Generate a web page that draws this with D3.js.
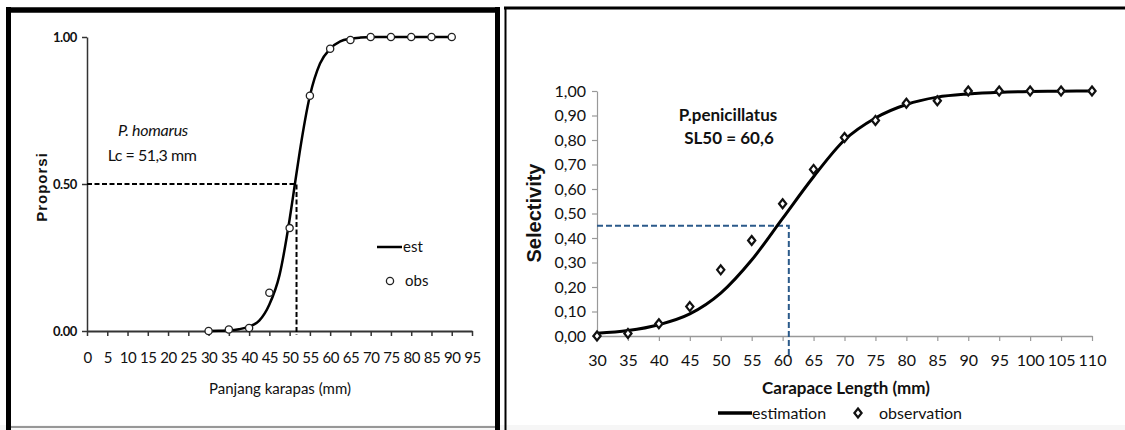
<!DOCTYPE html>
<html><head><meta charset="utf-8">
<script src="https://cdnjs.cloudflare.com/ajax/libs/d3/7.8.5/d3.min.js"></script>
<style>
body{margin:0;background:#fff}
svg{display:block}
text{font-family:Lato,"Open Sans",sans-serif;fill:#111}
</style></head><body>
<svg id="c" width="1125" height="430"></svg>
<script>
// ---- Left panel (P. homarus) ----
const leftObsX = [30,35,40,45,50,55,60,65,70,75,80,85,90];
const leftObsY = [0.00,0.005,0.01,0.13,0.35,0.80,0.96,0.99,1.00,1.00,1.00,1.00,1.00];
const leftEstX = [30,32.5,35,37.5,40,42.5,45,47.5,50,51.3,52.5,55,57.5,60,62.5,65,67.5,70,75,80,85,90];
const leftEstY = [0.000,0.001,0.002,0.006,0.015,0.035,0.09,0.19,0.38,0.50,0.61,0.80,0.91,0.96,0.985,0.994,0.998,1.0,1.0,1.0,1.0,1.0];
const leftXTicks = [0,5,10,15,20,25,30,35,40,45,50,55,60,65,70,75,80,85,90,95];
const leftYTicks = [0,0.5,1];
const leftRefX = 51.7, leftRefY = 0.5;
const leftLabels = ["P. homarus","Lc = 51,3 mm"];
const leftLegend = ["est","obs"];

// ---- Right panel (P. penicillatus) ----
const rightObsX = [30,35,40,45,50,55,60,65,70,75,80,85,90,95,100,105,110];
const rightObsY = [0.00,0.01,0.05,0.12,0.27,0.39,0.54,0.68,0.81,0.88,0.95,0.96,1.00,1.00,1.00,1.00,1.00];
const rightEstX = [30,35,40,45,50,55,60,65,70,75,80,85,90,95,100,105,110];
const rightEstY = [0.011,0.022,0.046,0.09,0.175,0.31,0.48,0.65,0.80,0.89,0.945,0.975,0.988,0.995,0.998,0.999,1.0];
const rightXTicks = [30,35,40,45,50,55,60,65,70,75,80,85,90,95,100,105,110];
const rightYTicks = [0,0.1,0.2,0.3,0.4,0.5,0.6,0.7,0.8,0.9,1.0];
const rightRefX = 61, rightRefY = 0.45;
const rightLabels = ["P.penicillatus","SL50 = 60,6"];
const rightLegend = ["estimation","observation"];

const svg = d3.select("#c");
svg.append("rect").attr("width",1125).attr("height",430).attr("fill","#fff");

// frames
svg.append("rect").attr("x",0).attr("y",425).attr("width",1125).attr("height",5).attr("fill","#f6f6f6");
svg.append("line").attr("x1",8.5).attr("x2",8.5).attr("y1",7).attr("y2",430).attr("stroke","#000").attr("stroke-width",5);
svg.append("line").attr("x1",6).attr("x2",500).attr("y1",10).attr("y2",10).attr("stroke","#000").attr("stroke-width",5.5);
svg.append("line").attr("x1",497.5).attr("x2",497.5).attr("y1",7).attr("y2",430).attr("stroke","#000").attr("stroke-width",5);
svg.append("line").attr("x1",11).attr("x2",495).attr("y1",427).attr("y2",427).attr("stroke","#777").attr("stroke-width",1.5);
svg.append("line").attr("x1",505.5).attr("x2",505.5).attr("y1",7).attr("y2",430).attr("stroke","#000").attr("stroke-width",2);
svg.append("line").attr("x1",504).attr("x2",1125).attr("y1",8).attr("y2",8).attr("stroke","#000").attr("stroke-width",3);

// ===== Left chart =====
const xL = d3.scaleLinear().domain([0,95]).range([87,472]);
const yL = d3.scaleLinear().domain([0,1]).range([331,37]);
const gL = svg.append("g");

const axL = gL.append("g").attr("transform","translate(0,331)")
  .call(d3.axisBottom(xL).tickValues(leftXTicks).tickSize(5).tickSizeOuter(0).tickPadding(16).tickFormat(d3.format("d")));
axL.select(".domain").attr("stroke","#333").attr("stroke-width",2);
axL.selectAll(".tick line").attr("stroke","#333").attr("stroke-width",1.5);
axL.selectAll("text").style("font-size","15px").style("letter-spacing","-0.5px").attr("fill","#222");

const ayL = gL.append("g").attr("transform","translate(87,0)")
  .call(d3.axisLeft(yL).tickValues(leftYTicks).tickSize(5).tickSizeOuter(0).tickPadding(5).tickFormat(d3.format(".2f")));
ayL.select(".domain").attr("stroke","#333").attr("stroke-width",1.5);
ayL.selectAll(".tick line").attr("stroke","#333").attr("stroke-width",1.5);
ayL.selectAll("text").style("font-size","13px").style("font-weight","bold").style("letter-spacing","-0.4px").attr("fill","#222");

// dashed reference
gL.append("path").attr("d",`M${xL(0)},${yL(leftRefY)}H${xL(leftRefX)}V${yL(0)+4}`)
  .attr("fill","none").attr("stroke","#000").attr("stroke-width",2).attr("stroke-dasharray","5,2.5");

// curve
gL.append("path").datum(leftEstX.map((x,i)=>[x,leftEstY[i]]))
  .attr("d",d3.line().x(d=>xL(d[0])).y(d=>yL(d[1])).curve(d3.curveMonotoneX))
  .attr("fill","none").attr("stroke","#000").attr("stroke-width",2.5);

// obs
gL.selectAll("circle.o").data(leftObsX.map((x,i)=>[x,leftObsY[i]])).enter().append("circle")
  .attr("cx",d=>xL(d[0])).attr("cy",d=>yL(d[1])).attr("r",3.6)
  .attr("fill","#fff").attr("stroke","#222").attr("stroke-width",1.3);

// annotations
gL.append("text").attr("x",153).attr("y",136).attr("text-anchor","middle").style("font-size","16px").style("font-style","italic").style("letter-spacing","-0.3px").text(leftLabels[0]);
gL.append("text").attr("x",152).attr("y",161).attr("text-anchor","middle").style("font-size","16px").style("letter-spacing","-0.5px").text(leftLabels[1]);
gL.append("text").attr("x",280).attr("y",394).attr("text-anchor","middle").style("font-size","15px").text("Panjang karapas (mm)");
gL.append("text").attr("transform","translate(47,187) rotate(-90)").attr("text-anchor","middle")
  .style("font-size","15px").style("font-weight","bold").style("letter-spacing","1px").style("font-family","'Liberation Sans',sans-serif").text("Proporsi");

// legend
gL.append("line").attr("x1",377).attr("x2",402).attr("y1",247).attr("y2",247).attr("stroke","#000").attr("stroke-width",2.5);
gL.append("text").attr("x",403).attr("y",252).style("font-size","15px").text(leftLegend[0]);
gL.append("circle").attr("cx",390).attr("cy",281).attr("r",3.6).attr("fill","#fff").attr("stroke","#222").attr("stroke-width",1.3);
gL.append("text").attr("x",405).attr("y",286).style("font-size","15px").text(leftLegend[1]);

// ===== Right chart =====
const xR = d3.scaleLinear().domain([30,110]).range([597,1092]);
const yR = d3.scaleLinear().domain([0,1]).range([336,91]);
const gR = svg.append("g");

const axR = gR.append("g").attr("transform","translate(0,336)")
  .call(d3.axisBottom(xR).tickValues(rightXTicks).tickSize(5).tickSizeOuter(0).tickPadding(14).tickFormat(d3.format("d")));
axR.select(".domain").attr("stroke","#999").attr("stroke-width",1.5);
axR.selectAll(".tick line").attr("stroke","#999").attr("stroke-width",1.2);
axR.selectAll("text").style("font-size","16px").attr("fill","#111");

const ayR = gR.append("g").attr("transform","translate(597,0)")
  .call(d3.axisLeft(yR).tickValues(rightYTicks).tickSize(5).tickSizeOuter(0).tickPadding(6).tickFormat(d=>d.toFixed(2).replace(".",",")));
ayR.select(".domain").attr("stroke","#999").attr("stroke-width",1.2);
ayR.selectAll(".tick line").attr("stroke","#999").attr("stroke-width",1.2);
ayR.selectAll("text").style("font-size","16px").attr("fill","#111");

gR.append("path").attr("d",`M${xR(30)},${yR(rightRefY)}H${xR(rightRefX)}V${yR(0)+20}`)
  .attr("fill","none").attr("stroke","#2b5a8a").attr("stroke-width",2).attr("stroke-dasharray","6,3");

gR.append("path").datum(rightEstX.map((x,i)=>[x,rightEstY[i]]))
  .attr("d",d3.line().x(d=>xR(d[0])).y(d=>yR(d[1])).curve(d3.curveMonotoneX))
  .attr("fill","none").attr("stroke","#000").attr("stroke-width",3);

const diamond = (cx,cy,s)=>`M${cx},${cy-s}L${cx+s*0.8},${cy}L${cx},${cy+s}L${cx-s*0.8},${cy}Z`;
gR.selectAll("path.d").data(rightObsX.map((x,i)=>[x,rightObsY[i]])).enter().append("path")
  .attr("d",d=>diamond(xR(d[0]),yR(d[1]),4.5))
  .attr("fill","#fff").attr("stroke","#111").attr("stroke-width",2.2);

gR.append("text").attr("x",728).attr("y",121).attr("text-anchor","middle").style("font-size","17px").style("font-weight","bold").text(rightLabels[0]);
gR.append("text").attr("x",729).attr("y",144).attr("text-anchor","middle").style("font-size","17px").style("font-weight","bold").text(rightLabels[1]);
gR.append("text").attr("x",846).attr("y",394).attr("text-anchor","middle").style("font-size","17px").style("font-weight","bold").text("Carapace Length (mm)");
gR.append("text").attr("transform","translate(541,213) rotate(-90)").attr("text-anchor","middle")
  .style("font-size","20px").style("font-weight","bold").style("font-family","'Liberation Sans',sans-serif").text("Selectivity");

gR.append("line").attr("x1",718).attr("x2",752).attr("y1",413).attr("y2",413).attr("stroke","#000").attr("stroke-width",3.5);
gR.append("text").attr("x",752).attr("y",419).style("font-size","16px").text(rightLegend[0]);
gR.append("path").attr("d",diamond(858,413,4.5)).attr("fill","#fff").attr("stroke","#111").attr("stroke-width",2.2);
gR.append("text").attr("x",879).attr("y",419).style("font-size","16px").text(rightLegend[1]);
</script>
</body></html>
